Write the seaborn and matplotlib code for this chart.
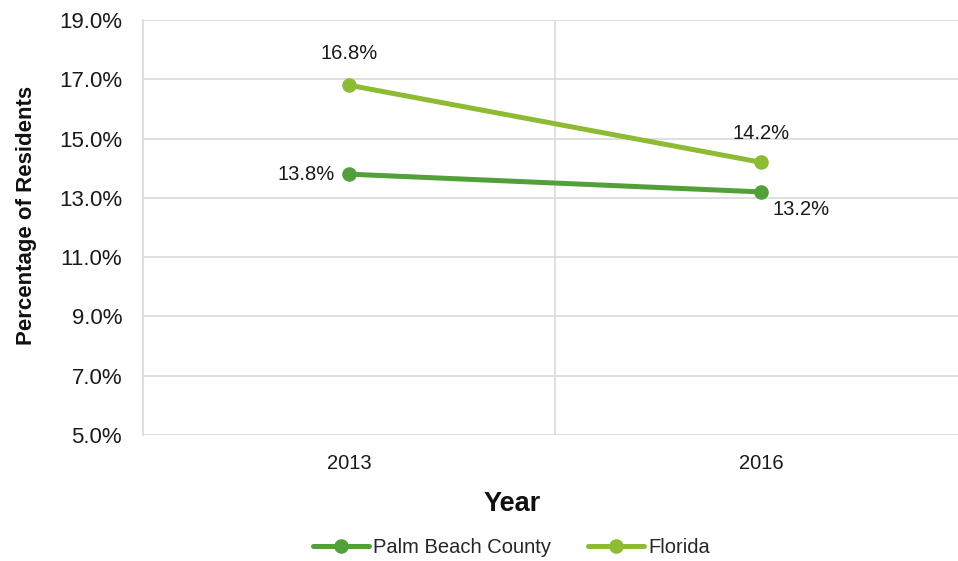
import pandas as pd
import matplotlib.pyplot as plt
import seaborn as sns
from matplotlib import font_manager

years = ["2013", "2016"]
palm_beach = [13.8, 13.2]
florida = [16.8, 14.2]
series_names = ["Palm Beach County", "Florida"]
colors = ["#52A03A", "#8DBB34"]

df = pd.DataFrame({
    "Year": years * 2,
    "Value": palm_beach + florida,
    "Series": [series_names[0]] * 2 + [series_names[1]] * 2,
})
df["x"] = df["Year"].map({y: i for i, y in enumerate(years)})

sns.set_style("white")
plt.rcParams["font.family"] = ["Liberation Sans", "DejaVu Sans"]

# narrow face for data labels / legend if it is around
installed = {f.name for f in font_manager.fontManager.ttflist}
if "Liberation Sans Narrow" in installed:
    narrow, narrow_size = ["Liberation Sans Narrow", "DejaVu Sans"], 16.5
else:
    narrow, narrow_size = ["Liberation Sans", "DejaVu Sans"], 14.5

fig = plt.figure(figsize=(9.58, 5.61), dpi=100)
ax = fig.add_axes([143 / 958, 1 - 435 / 561, (958 - 143) / 958, (435 - 20) / 561])

sns.lineplot(data=df, x="x", y="Value", hue="Series", palette=colors,
             marker="o", markersize=10.5, markeredgewidth=0, linewidth=3.6, ax=ax)

ax.set_xlim(-0.5, 1.478)
ax.set_ylim(5, 19)
ax.set_yticks(range(5, 20, 2))
ax.set_yticklabels([f"{v:.1f}%" for v in range(5, 20, 2)], fontsize=16)
ax.set_xticks(range(len(years)))
ax.set_xticklabels(years, fontsize=14.5)
ax.tick_params(axis="both", colors="#1a1a1a")
ax.tick_params(axis="y", length=0, pad=15)
ax.tick_params(axis="x", length=0, pad=14)
ax.grid(axis="y", color="#D9D9D9", linewidth=1.2)
ax.axvline(0.5, color="#D9D9D9", linewidth=1.2, zorder=0)
for s in ["top", "right", "bottom"]:
    ax.spines[s].set_visible(False)
ax.spines["left"].set_color("#D9D9D9")
ax.spines["left"].set_linewidth(1.2)
ax.set_axisbelow(True)

ax.set_xlabel("Year", fontsize=19.5, fontweight="bold", color="#111111")
ax.set_ylabel("Percentage of Residents", fontsize=16, fontweight="bold", color="#111111")
ax.xaxis.set_label_coords(0.453, -0.135)
ax.yaxis.set_label_coords(-0.130, 0.528)

# data labels
lab = dict(fontsize=narrow_size, color="#1a1a1a", family=narrow)
ax.annotate(f"{florida[0]:.1f}%", (0, florida[0]), xytext=(0, 16), textcoords="offset points",
            ha="center", va="bottom", **lab)
ax.annotate(f"{palm_beach[0]:.1f}%", (0, palm_beach[0]), xytext=(-10, 0), textcoords="offset points",
            ha="right", va="center", **lab)
ax.annotate(f"{florida[1]:.1f}%", (1, florida[1]), xytext=(0, 14), textcoords="offset points",
            ha="center", va="bottom", **lab)
ax.annotate(f"{palm_beach[1]:.1f}%", (1, palm_beach[1]), xytext=(8, -6), textcoords="offset points",
            ha="left", va="top", **lab)

ax.legend(loc="center", bbox_to_anchor=(0.452, -0.272), ncol=2, frameon=False,
          prop={"family": narrow, "size": narrow_size},
          handlelength=2.8, columnspacing=1.8, handletextpad=0.2)

fig.savefig("out.png", dpi=100)
